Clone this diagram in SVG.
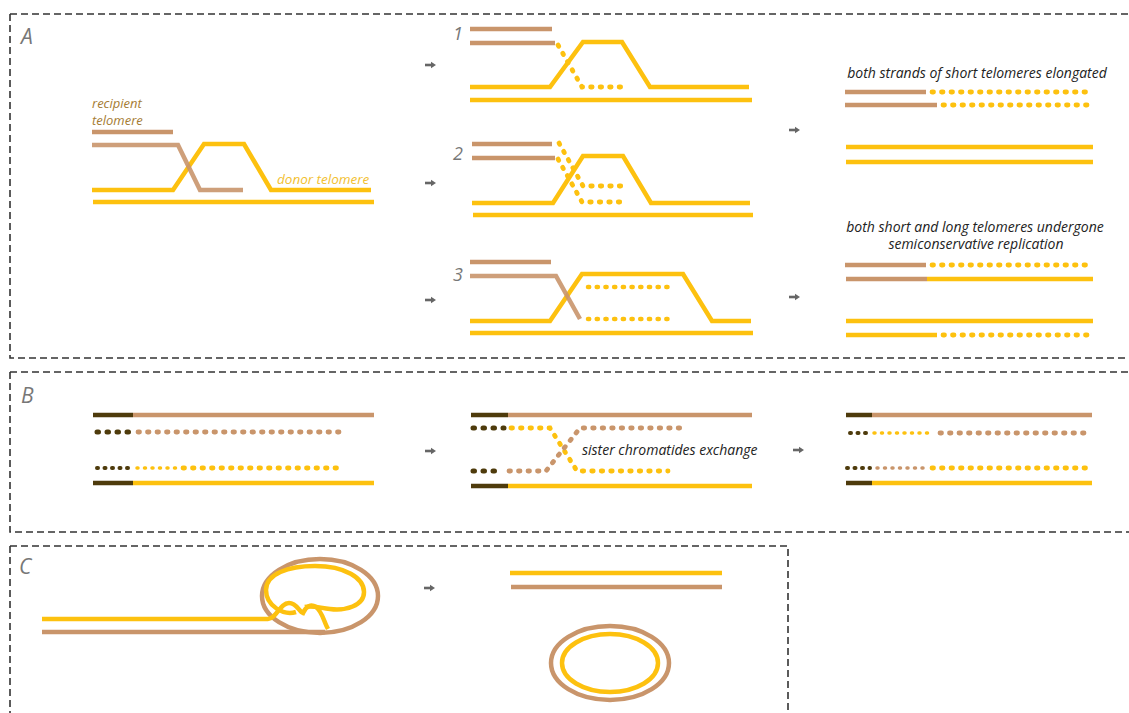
<svg xmlns="http://www.w3.org/2000/svg" xmlns:xlink="http://www.w3.org/1999/xlink" width="1129" height="713" viewBox="0 0 1129 713">
<style>
.frame{fill:none;stroke:#333;stroke-width:1.6;stroke-dasharray:7 4}
.t{fill:none;stroke:#C9956B;stroke-width:4.5}
.y{fill:none;stroke:#FDC10F;stroke-width:4.5}
.d{fill:none;stroke:#4E3B0C;stroke-width:4.5}
.ty{fill:none;stroke:#FDC10F;stroke-width:4.8;stroke-linecap:round;stroke-dasharray:1.5 8}
.ty3{fill:none;stroke:#FDC10F;stroke-width:4.5;stroke-linecap:round;stroke-dasharray:1.2 7.5}
.tt{fill:none;stroke:#C9956B;stroke-width:4.8;stroke-linecap:round;stroke-dasharray:1.5 8}
.td{fill:none;stroke:#4E3B0C;stroke-width:5;stroke-linecap:round;stroke-dasharray:1.5 8.5}
.sy{fill:none;stroke:#FDC10F;stroke-width:3.5;stroke-linecap:round;stroke-dasharray:1 6.5}
.st{fill:none;stroke:#C9956B;stroke-width:3.5;stroke-linecap:round;stroke-dasharray:1 6.5}
.sd{fill:none;stroke:#4E3B0C;stroke-width:4;stroke-linecap:round;stroke-dasharray:1 6.5}
.lab{font-family:"Open Sans","DejaVu Sans",sans-serif;font-style:italic;fill:#777;font-size:21px}
.num{font-family:"Open Sans","DejaVu Sans",sans-serif;font-style:italic;fill:#777;font-size:18px}
.txt{font-family:"Open Sans","DejaVu Sans",sans-serif;font-style:italic;fill:#222;font-size:14px}
.rec{font-family:"Open Sans","DejaVu Sans",sans-serif;font-style:italic;fill:#A57C33;font-size:13px}
</style>
<defs>
<g id="arr"><path d="M0,0 H7" stroke="#666" stroke-width="2.6"/><path d="M6,-3.2 L11,0 L6,3.2 Z" fill="#666"/></g>
</defs>
<rect width="1129" height="713" fill="#fff"/>

<g id="frames">
<path class="frame" d="M10,14 H1129 M10,14 V358 H1129"/>
<path class="frame" d="M10,372 H1129 M10,372 V532 H1129"/>
<path class="frame" d="M10,546 H788 V713 M10,546 V713"/>
<text class="lab" x="21" y="44">A</text>
<text class="lab" x="21" y="403">B</text>
<text class="lab" x="19" y="574">C</text>
</g>

<g id="connectors">
<use xlink:href="#arr" x="425" y="65"/>
<use xlink:href="#arr" x="425" y="183"/>
<use xlink:href="#arr" x="425" y="300"/>
<use xlink:href="#arr" x="789" y="130"/>
<use xlink:href="#arr" x="789" y="297"/>
<use xlink:href="#arr" x="425" y="451"/>
<use xlink:href="#arr" x="793" y="450"/>
<use xlink:href="#arr" x="424" y="588"/>
</g>

<g id="a-start">
<text class="rec" x="92" y="108">recipient</text>
<text class="rec" x="92" y="125">telomere</text>
<text x="277" y="184" font-family="Open Sans, DejaVu Sans, sans-serif" font-style="italic" font-size="13.5" fill="#F2C030">donor telomere</text>
<path class="t" d="M92,132 H173"/>
<path class="y" d="M92,190 H173 L204,144 H244 L271,190 H371"/>
<path class="y" d="M93,202 H374"/>
<path class="t" d="M92,145 H178 L200,190 H243" opacity="0.9"/>
</g>

<g id="a-step1">
<text class="num" x="453" y="40">1</text>
<path class="t" d="M470,29 H552"/>
<path class="t" d="M470,43 H555"/>
<path class="y" d="M470,87 H550 L583,42 H622 L650,87 H749"/>
<path class="y" d="M470,100 H752"/>
<path class="ty" d="M558,45 L582,87 H621"/>
</g>

<g id="a-step2">
<text class="num" x="453" y="160">2</text>
<path class="t" d="M472,144 H552"/>
<path class="t" d="M472,158 H555"/>
<path class="y" d="M472,203 H553 L583,156 H623 L651,203 H750"/>
<path class="y" d="M473,215 H753"/>
<path class="ty" d="M559,143 L583,186 H622"/>
<path class="ty" d="M558,159 L582,202 H622"/>
</g>

<g id="a-step3">
<text class="num" x="453" y="281">3</text>
<path class="t" d="M470,262 H551"/>
<path class="y" d="M470,321 H550 L582,274 H683 L712,321 H751"/>
<path class="y" d="M470,333 H753"/>
<path class="t" d="M470,276 H556 L580,319" opacity="0.9"/>
<path class="ty3" d="M588,287 H668"/>
<path class="ty3" d="M588,319 H668"/>
</g>

<g id="a-result1">
<text class="txt" x="977" y="78" text-anchor="middle">both strands of short telomeres elongated</text>
<path class="t" d="M845,92 H926"/>
<path class="ty" d="M932,92 H1093"/>
<path class="t" d="M845,105 H937"/>
<path class="ty" d="M943,105 H1093"/>
<path class="y" d="M846,147 H1093"/>
<path class="y" d="M846,162 H1093"/>
</g>

<g id="a-result2">
<text class="txt" x="975" y="232" text-anchor="middle" font-size="13.5">both short and long telomeres undergone</text>
<text class="txt" x="976" y="249" text-anchor="middle" font-size="13.5">semiconservative replication</text>
<path class="t" d="M845,265 H926"/>
<path class="ty" d="M932,265 H1093"/>
<path class="t" d="M846,279 H927"/>
<path class="y" d="M927,279 H1093"/>
<path class="y" d="M846,321 H1093"/>
<path class="y" d="M846,335 H937"/>
<path class="ty" d="M943,335 H1093"/>
</g>

<g id="b-start">
<path class="d" d="M93,415 H133"/>
<path class="t" d="M133,415 H374"/>
<path class="td" d="M97,432 H130"/>
<path class="tt" d="M138,432 H347"/>
<path class="sd" d="M97,468 H130"/>
<path class="sy" d="M137,468 H178"/>
<path class="ty" d="M183,468 H342"/>
<path class="d" d="M93,483 H133"/>
<path class="y" d="M133,483 H374"/>
</g>

<g id="b-exchange">
<path class="d" d="M471,415 H508"/>
<path class="t" d="M508,415 H752"/>
<path class="td" d="M473,428 H504"/>
<path class="ty" d="M511,428 H550 L577,471 H668"/>
<path class="td" d="M473,471 H502"/>
<path class="tt" d="M509,471 H546 L580,428 H683"/>
<path class="d" d="M471,486 H508"/>
<path class="y" d="M508,486 H752"/>
<text class="txt" x="582" y="455">sister chromatides exchange</text>
</g>

<g id="b-result">
<path class="d" d="M846,415 H872"/>
<path class="t" d="M872,415 H1092"/>
<path class="sd" d="M850,433 H868"/>
<path class="sy" d="M874,433 H934"/>
<path class="tt" d="M940,433 H1092"/>
<path class="sd" d="M847,468 H870"/>
<path class="st" d="M877,468 H927"/>
<path class="ty" d="M932,468 H1092"/>
<path class="d" d="M846,483 H872"/>
<path class="y" d="M872,483 H1092"/>
</g>

<g id="c-tloop">
<path class="t" d="M42,632 H325"/>
<ellipse class="t" cx="320" cy="596" rx="58" ry="37"/>
<path class="y" d="M296,612 C284,616 266,606 266,590 C266,574 288,566 315,566 C345,566 364,578 364,592 C364,606 345,611 330,609 C320,608 312,605 305,607"/>
<path class="y" d="M42,619 H268 C276,619 280,603 289,603 C297,603 299,612 303,613 C306,606 311,604 316,607 C322,611 324,622 328,629"/>
</g>

<g id="c-result">
<path class="y" d="M510,573 H722"/>
<path class="t" d="M511,587 H722"/>
<ellipse class="t" cx="610" cy="663" rx="59" ry="37"/>
<ellipse class="y" cx="610" cy="663" rx="48" ry="29" stroke-width="4.5"/>
</g>
</svg>
